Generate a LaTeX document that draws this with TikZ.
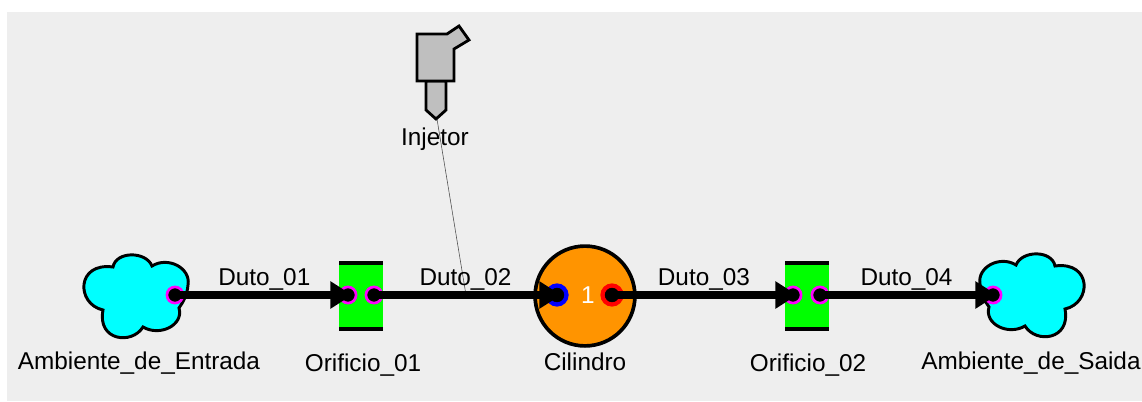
\documentclass[tikz,border=0pt]{standalone}
\usepackage{fontspec}
\setmainfont{Liberation Sans}
\usepackage{xcolor}
\usetikzlibrary{arrows.meta, positioning}

\definecolor{fundo}{HTML}{EEEEEE}
\definecolor{laranja}{HTML}{FF9400}
\definecolor{ciano}{HTML}{00FFFF}
\definecolor{verde}{HTML}{00FF00}
\definecolor{rosa}{HTML}{FF00FF}
\definecolor{azul}{HTML}{0000FF}
\definecolor{vermelho}{HTML}{FF0000}

\tikzset{
	rotulo/.style={font=\fontsize{17.3}{20}\selectfont, inner sep=0pt},
	pino/.style={circle, fill=black, draw=rosa, line width=1.9pt, minimum size=11.5pt, inner sep=0pt},
	pinoEntrada/.style={pino, draw=azul, line width=3pt, minimum size=13.5pt},
	pinoSaida/.style={pino, draw=vermelho, line width=3pt, minimum size=13.5pt},
	duto/.style={line width=5pt, -{Triangle[length=15.5pt, width=18.5pt]}, shorten >=-3pt},
	nuvem/.pic={
		\draw [line width=2.1pt, fill=ciano] (113,267)
		.. controls (116,251) and (146,251) .. (152,266)
		.. controls (168,256) and (191,268) .. (188,285)
		.. controls (187,296) and (183,302) .. (179,308)
		.. controls (184,325) and (160,337) .. (143,327)
		.. controls (132,345) and (97,341) .. (103,310)
		.. controls (76,304) and (76,262) .. (113,267) -- cycle;
	},
	orificio/.pic={
		\fill [verde] (-22,-35) rectangle (22,35);
		\fill (-22,-35) rectangle (22,-31);
		\fill (-22,31) rectangle (22,35);
	}
}

\begin{document}
\begin{tikzpicture}[x=0.025cm, y=-0.025cm]
	\useasboundingbox (0,0) rectangle (1142,401);
	\fill [fundo] (7,12) rectangle (1142,401);

	%% Ambientes e orificios
	\pic at (0,0) {nuvem};
	\pic [xscale=-1] at (1168,-1) {nuvem};
	\pic at (361,295.5) {orificio};
	\pic at (807,295.5) {orificio};

	%% Cilindro
	\node (cilindro) [circle, draw, line width=2.6pt, fill=laranja, minimum size=71pt, inner sep=0pt] at (585,296) {};
	\node (numero) [rotulo, text=white] at (588,295) {1};

	%% Injetor
	\draw [line width=2pt, fill=black!25] (426,81) -- (426,110) -- (436,119) -- (446,110) -- (446,81) -- cycle;
	\draw [line width=2pt, fill=black!25] (417,34) -- (447,34) -- (459,26) -- (469,40) -- (454,49) -- (454,81) -- (417,81) -- cycle;
	\coordinate (bico) at (437,119);
	\coordinate (derivacao) at (466,295);
	\draw [black!70, line width=0.4pt] (bico) -- (derivacao);

	%% Pinos
	\node (p1) [pino] at (175,295) {};
	\node (p2) [pino] at (348,295) {};
	\node (p3) [pino] at (374,295) {};
	\node (p4) [pinoEntrada] at (557,295) {};
	\node (p5) [pinoSaida] at (612,295) {};
	\node (p6) [pino] at (793,295) {};
	\node (p7) [pino] at (820,295) {};
	\node (p8) [pino] at (993,295) {};

	%% Dutos
	\draw [duto] (p1.center) -- (p2.center)
	node (duto01) [rotulo, midway, above=1pt, xshift=2pt] {Duto\_01};

	\draw [duto] (p3.center) -- (p4.center)
	node (duto02) [rotulo, midway, above=1pt] {Duto\_02};

	\draw [duto] (p5.center) -- (p6.center)
	node (duto03) [rotulo, midway, above=1pt, xshift=1pt] {Duto\_03};

	\draw [duto] (p7.center) -- (p8.center)
	node (duto04) [rotulo, midway, above=1pt] {Duto\_04};

	%% Nomes
	\node (nomeEntrada) [rotulo] at (139,363) {Ambiente\_de\_Entrada};
	\node (nomeOrificio1) [rotulo] at (363,365) {Orificio\_01};
	\node (nomeCilindro) [rotulo] at (585,362) {Cilindro};
	\node (nomeOrificio2) [rotulo] at (808,365) {Orificio\_02};
	\node (nomeSaida) [rotulo] at (1031,363) {Ambiente\_de\_Saida};
	\node (nomeInjetor) [rotulo] at (435,139) {Injetor};
\end{tikzpicture}
\end{document}
